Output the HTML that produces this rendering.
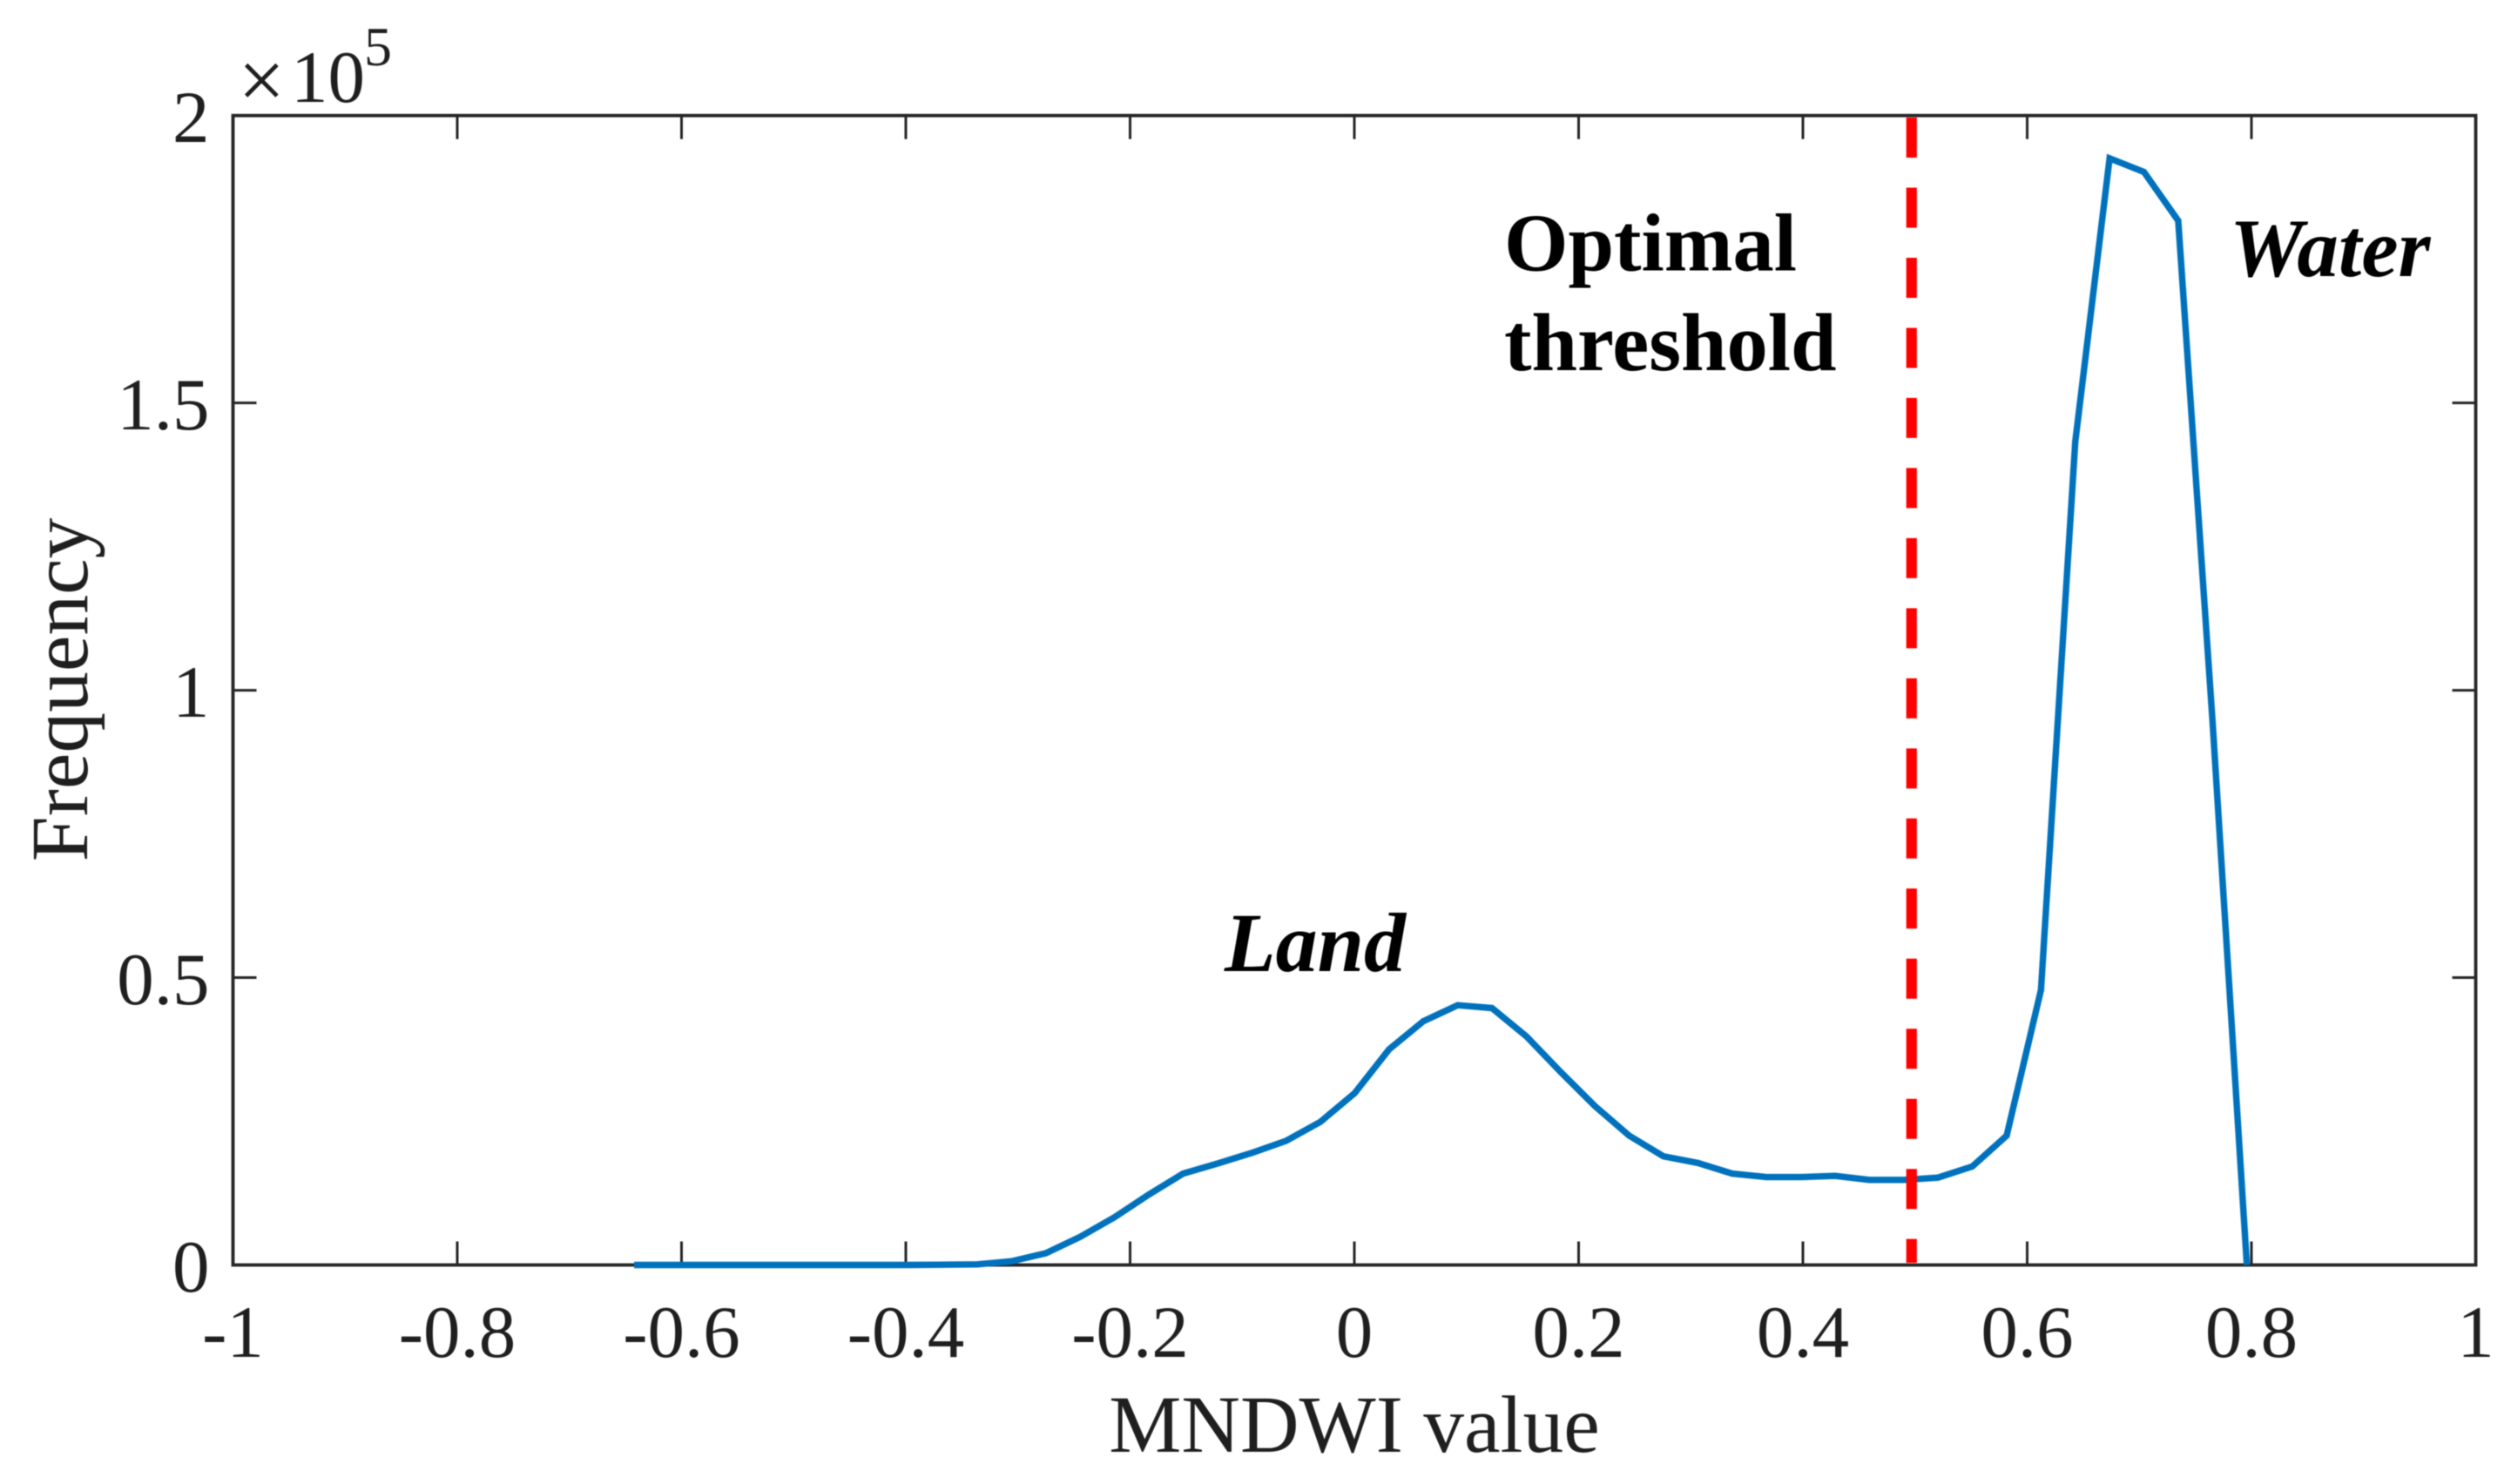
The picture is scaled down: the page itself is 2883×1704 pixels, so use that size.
<!DOCTYPE html>
<html lang="en">
<head>
<meta charset="utf-8">
<title>MNDWI value histogram</title>
<style>
html,body{margin:0;padding:0;background:#fff;}
body{width:2883px;height:1704px;overflow:hidden;}
svg{display:block;filter:blur(0.5px);}
text{font-family:"Liberation Serif",serif;}
</style>
</head>
<body>
<svg id="chart" xmlns="http://www.w3.org/2000/svg" width="2883" height="1704" viewBox="0 0 2883 1704">
  <rect x="0" y="0" width="2883" height="1704" fill="#fff"/>
  <g id="ticks"></g>
  <rect x="267.5" y="132.7" width="2575" height="1319.8" fill="none" stroke="#262626" stroke-width="3.8"/>
  <g id="tick-labels"></g>
  <text x="273.5" y="124" font-size="95" fill="#1f1f1f">×</text>
  <text x="334" y="117" font-size="85" fill="#1f1f1f">10</text>
  <text x="418" y="75" font-size="64" fill="#1f1f1f">5</text>
  <text x="1555" y="1667" font-size="93.5" fill="#1f1f1f" text-anchor="middle">MNDWI value</text>
  <text transform="translate(100 792) rotate(-90)" font-size="93.5" fill="#1f1f1f" text-anchor="middle">Frequency</text>
  <g id="series"></g>
  <text x="1727" y="310.7" font-size="94.5" font-weight="bold" fill="#000">Optimal</text>
  <text x="1727" y="425" font-size="94.5" font-weight="bold" fill="#000">threshold</text>
  <text x="1406" y="1115" font-size="96" font-weight="bold" font-style="italic" fill="#000">Land</text>
  <text x="2560" y="317" font-size="95" font-weight="bold" font-style="italic" fill="#000">Water</text>
</svg>
<script>
const mndwiValues = [-0.6423,-0.6117,-0.5811,-0.5505,-0.5199,-0.4893,-0.4587,-0.4281,-0.3975,-0.3669,-0.3363,-0.3057,-0.2751,-0.2445,-0.2139,-0.1833,-0.1527,-0.1221,-0.0915,-0.0609,-0.0303,0.0003,0.0309,0.0615,0.0921,0.1227,0.1533,0.1839,0.2145,0.2451,0.2757,0.3063,0.3369,0.3675,0.3981,0.4287,0.4593,0.4899,0.5205,0.5511,0.5817,0.6123,0.6429,0.6735,0.7041,0.7347,0.7653,0.7959];
const frequencyValues = [0,0,0,0,0,0,0,0,0,0.0005,0.001,0.0065,0.0205,0.049,0.083,0.1225,0.159,0.1765,0.195,0.216,0.249,0.299,0.375,0.424,0.452,0.447,0.398,0.336,0.2765,0.225,0.189,0.1775,0.159,0.153,0.153,0.155,0.148,0.148,0.152,0.1715,0.225,0.4785,1.4326,1.9255,1.902,1.817,0.946,0];
const optimalThreshold = [0.4969];
const xTickValues = [-1,-0.8,-0.6,-0.4,-0.2,0,0.2,0.4,0.6,0.8,1];
const xTickLabels = ["-1","-0.8","-0.6","-0.4","-0.2","0","0.2","0.4","0.6","0.8","1"];
const yTickValues = [0,0.5,1,1.5,2];
const yTickLabels = ["0","0.5","1","1.5","2"];

const plotLeft = 267.5, plotRight = 2842.5, plotTop = 132.7, plotBottom = 1452.5;
const xMin = -1, xMax = 1, yMin = 0, yMax = 2;
const tickLength = 27;
const NS = "http://www.w3.org/2000/svg";

function xScale(v) { return plotLeft + (v - xMin) / (xMax - xMin) * (plotRight - plotLeft); }
function yScale(v) { return plotBottom - (v - yMin) / (yMax - yMin) * (plotBottom - plotTop); }
function make(tag, attrs, parent) {
  const el = document.createElementNS(NS, tag);
  for (const k in attrs) el.setAttribute(k, attrs[k]);
  parent.appendChild(el);
  return el;
}

const tickGroup = document.getElementById("ticks");
const labelGroup = document.getElementById("tick-labels");
const seriesGroup = document.getElementById("series");
const tickStyle = { stroke: "#262626", "stroke-width": 3, fill: "none" };

xTickValues.forEach(function (v, i) {
  const x = xScale(v);
  const bottomTick = make("line", Object.assign({ x1: x, x2: x, y1: plotBottom, y2: plotBottom - tickLength }, tickStyle), tickGroup);
  
  
  const topTick = make("line", Object.assign({ x1: x, x2: x, y1: plotTop, y2: plotTop + tickLength }, tickStyle), tickGroup);
  
  
  const label = make("text", { x: x, y: 1558, "font-size": 85, fill: "#1f1f1f", "text-anchor": "middle" }, labelGroup);
  label.textContent = xTickLabels[i];
  
  
});

yTickValues.forEach(function (v, i) {
  const y = yScale(v);
  const leftTick = make("line", Object.assign({ x1: plotLeft, x2: plotLeft + tickLength, y1: y, y2: y }, tickStyle), tickGroup);
  
  
  const rightTick = make("line", Object.assign({ x1: plotRight, x2: plotRight - tickLength, y1: y, y2: y }, tickStyle), tickGroup);
  
  
  const label = make("text", { x: 240.5, y: y + 30.3, "font-size": 85, fill: "#1f1f1f", "text-anchor": "end" }, labelGroup);
  label.textContent = yTickLabels[i];
  
  
});

const pathData = mndwiValues.map(function (v, i) {
  return (i ? "L" : "M") + xScale(v).toFixed(2) + " " + yScale(frequencyValues[i]).toFixed(2);
}).join(" ");
const curve = make("path", { d: pathData, fill: "none", stroke: "#0072BD", "stroke-width": 7.4, "stroke-linejoin": "miter", "stroke-miterlimit": 4 }, seriesGroup);



optimalThreshold.forEach(function (v) {
  const x = xScale(v);
  const line = make("line", { x1: x, x2: x, y1: yScale(yMax) + 2.3, y2: yScale(yMin) - 2.5, stroke: "#FF0000", "stroke-width": 12.2, "stroke-dasharray": "46 34.48" }, seriesGroup);
  
  
});
</script>
</body>
</html>
